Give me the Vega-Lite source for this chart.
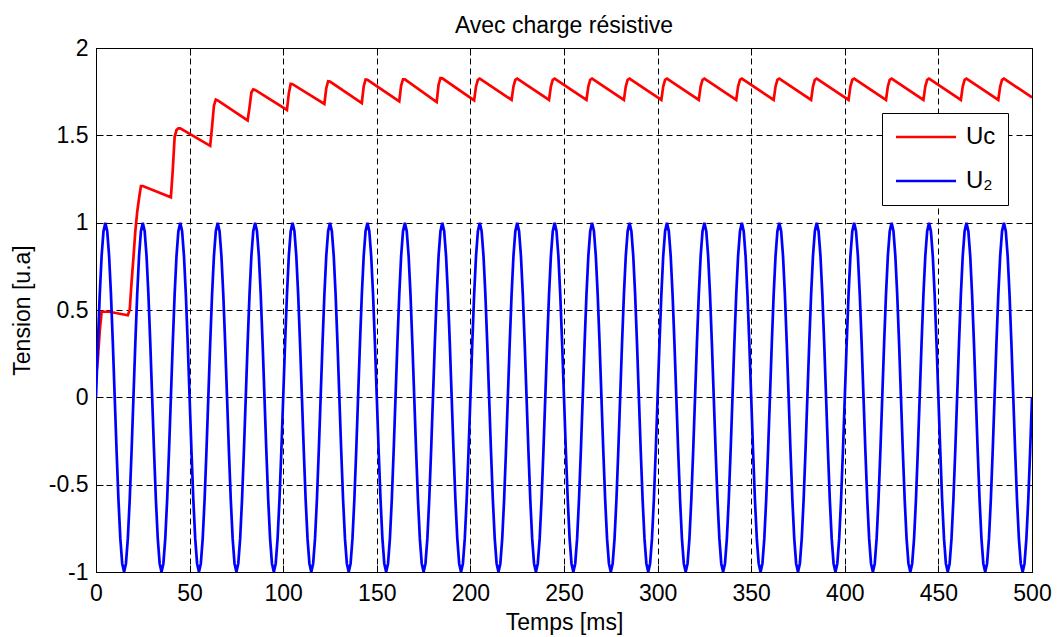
{
"$schema": "https://vega.github.io/schema/vega-lite/v6.json",
"width": 936,
"height": 524,
"autosize": "none",
"padding": {"left": 96, "top": 48, "right": 30, "bottom": 65},
"background": "white",
"title": {"text": "Avec charge résistive", "fontSize": 23, "font": "Liberation Sans", "fontWeight": "normal", "color": "black", "offset": -1},
"config": {
  "view": {"stroke": "black", "strokeWidth": 1},
  "font": "Liberation Sans",
  "axis": {"labelFont": "Liberation Sans", "titleFont": "Liberation Sans", "labelFontSize": 23, "titleFontSize": 23, "titleFontWeight": "normal", "labelColor": "black", "titleColor": "black", "domainColor": "black", "tickColor": "black", "grid": true, "gridColor": "black", "gridDash": [6, 4], "gridOpacity": 1, "gridWidth": 1, "tickSize": -7, "labelFlush": false}
},
"resolve": {"axis": {"x": "independent", "y": "independent"}},
"datasets": {
"u2": [
{"t":0,"v":0},{"t":1,"v":0.309},{"t":2,"v":0.588},{"t":3,"v":0.809},{"t":4,"v":0.951},{"t":5,"v":1},{"t":6,"v":0.951},{"t":7,"v":0.809},{"t":8,"v":0.588},{"t":9,"v":0.309},{"t":10,"v":0},{"t":11,"v":-0.309},{"t":12,"v":-0.588},{"t":13,"v":-0.809},{"t":14,"v":-0.951},{"t":15,"v":-1},{"t":16,"v":-0.951},{"t":17,"v":-0.809},{"t":18,"v":-0.588},{"t":19,"v":-0.309},
{"t":20,"v":0},{"t":21,"v":0.309},{"t":22,"v":0.588},{"t":23,"v":0.809},{"t":24,"v":0.951},{"t":25,"v":1},{"t":26,"v":0.951},{"t":27,"v":0.809},{"t":28,"v":0.588},{"t":29,"v":0.309},{"t":30,"v":0},{"t":31,"v":-0.309},{"t":32,"v":-0.588},{"t":33,"v":-0.809},{"t":34,"v":-0.951},{"t":35,"v":-1},{"t":36,"v":-0.951},{"t":37,"v":-0.809},{"t":38,"v":-0.588},{"t":39,"v":-0.309},
{"t":40,"v":0},{"t":41,"v":0.309},{"t":42,"v":0.588},{"t":43,"v":0.809},{"t":44,"v":0.951},{"t":45,"v":1},{"t":46,"v":0.951},{"t":47,"v":0.809},{"t":48,"v":0.588},{"t":49,"v":0.309},{"t":50,"v":0},{"t":51,"v":-0.309},{"t":52,"v":-0.588},{"t":53,"v":-0.809},{"t":54,"v":-0.951},{"t":55,"v":-1},{"t":56,"v":-0.951},{"t":57,"v":-0.809},{"t":58,"v":-0.588},{"t":59,"v":-0.309},
{"t":60,"v":0},{"t":61,"v":0.309},{"t":62,"v":0.588},{"t":63,"v":0.809},{"t":64,"v":0.951},{"t":65,"v":1},{"t":66,"v":0.951},{"t":67,"v":0.809},{"t":68,"v":0.588},{"t":69,"v":0.309},{"t":70,"v":0},{"t":71,"v":-0.309},{"t":72,"v":-0.588},{"t":73,"v":-0.809},{"t":74,"v":-0.951},{"t":75,"v":-1},{"t":76,"v":-0.951},{"t":77,"v":-0.809},{"t":78,"v":-0.588},{"t":79,"v":-0.309},
{"t":80,"v":0},{"t":81,"v":0.309},{"t":82,"v":0.588},{"t":83,"v":0.809},{"t":84,"v":0.951},{"t":85,"v":1},{"t":86,"v":0.951},{"t":87,"v":0.809},{"t":88,"v":0.588},{"t":89,"v":0.309},{"t":90,"v":0},{"t":91,"v":-0.309},{"t":92,"v":-0.588},{"t":93,"v":-0.809},{"t":94,"v":-0.951},{"t":95,"v":-1},{"t":96,"v":-0.951},{"t":97,"v":-0.809},{"t":98,"v":-0.588},{"t":99,"v":-0.309},
{"t":100,"v":0},{"t":101,"v":0.309},{"t":102,"v":0.588},{"t":103,"v":0.809},{"t":104,"v":0.951},{"t":105,"v":1},{"t":106,"v":0.951},{"t":107,"v":0.809},{"t":108,"v":0.588},{"t":109,"v":0.309},{"t":110,"v":0},{"t":111,"v":-0.309},{"t":112,"v":-0.588},{"t":113,"v":-0.809},{"t":114,"v":-0.951},{"t":115,"v":-1},{"t":116,"v":-0.951},{"t":117,"v":-0.809},{"t":118,"v":-0.588},{"t":119,"v":-0.309},
{"t":120,"v":0},{"t":121,"v":0.309},{"t":122,"v":0.588},{"t":123,"v":0.809},{"t":124,"v":0.951},{"t":125,"v":1},{"t":126,"v":0.951},{"t":127,"v":0.809},{"t":128,"v":0.588},{"t":129,"v":0.309},{"t":130,"v":0},{"t":131,"v":-0.309},{"t":132,"v":-0.588},{"t":133,"v":-0.809},{"t":134,"v":-0.951},{"t":135,"v":-1},{"t":136,"v":-0.951},{"t":137,"v":-0.809},{"t":138,"v":-0.588},{"t":139,"v":-0.309},
{"t":140,"v":0},{"t":141,"v":0.309},{"t":142,"v":0.588},{"t":143,"v":0.809},{"t":144,"v":0.951},{"t":145,"v":1},{"t":146,"v":0.951},{"t":147,"v":0.809},{"t":148,"v":0.588},{"t":149,"v":0.309},{"t":150,"v":0},{"t":151,"v":-0.309},{"t":152,"v":-0.588},{"t":153,"v":-0.809},{"t":154,"v":-0.951},{"t":155,"v":-1},{"t":156,"v":-0.951},{"t":157,"v":-0.809},{"t":158,"v":-0.588},{"t":159,"v":-0.309},
{"t":160,"v":0},{"t":161,"v":0.309},{"t":162,"v":0.588},{"t":163,"v":0.809},{"t":164,"v":0.951},{"t":165,"v":1},{"t":166,"v":0.951},{"t":167,"v":0.809},{"t":168,"v":0.588},{"t":169,"v":0.309},{"t":170,"v":0},{"t":171,"v":-0.309},{"t":172,"v":-0.588},{"t":173,"v":-0.809},{"t":174,"v":-0.951},{"t":175,"v":-1},{"t":176,"v":-0.951},{"t":177,"v":-0.809},{"t":178,"v":-0.588},{"t":179,"v":-0.309},
{"t":180,"v":0},{"t":181,"v":0.309},{"t":182,"v":0.588},{"t":183,"v":0.809},{"t":184,"v":0.951},{"t":185,"v":1},{"t":186,"v":0.951},{"t":187,"v":0.809},{"t":188,"v":0.588},{"t":189,"v":0.309},{"t":190,"v":0},{"t":191,"v":-0.309},{"t":192,"v":-0.588},{"t":193,"v":-0.809},{"t":194,"v":-0.951},{"t":195,"v":-1},{"t":196,"v":-0.951},{"t":197,"v":-0.809},{"t":198,"v":-0.588},{"t":199,"v":-0.309},
{"t":200,"v":0},{"t":201,"v":0.309},{"t":202,"v":0.588},{"t":203,"v":0.809},{"t":204,"v":0.951},{"t":205,"v":1},{"t":206,"v":0.951},{"t":207,"v":0.809},{"t":208,"v":0.588},{"t":209,"v":0.309},{"t":210,"v":0},{"t":211,"v":-0.309},{"t":212,"v":-0.588},{"t":213,"v":-0.809},{"t":214,"v":-0.951},{"t":215,"v":-1},{"t":216,"v":-0.951},{"t":217,"v":-0.809},{"t":218,"v":-0.588},{"t":219,"v":-0.309},
{"t":220,"v":0},{"t":221,"v":0.309},{"t":222,"v":0.588},{"t":223,"v":0.809},{"t":224,"v":0.951},{"t":225,"v":1},{"t":226,"v":0.951},{"t":227,"v":0.809},{"t":228,"v":0.588},{"t":229,"v":0.309},{"t":230,"v":0},{"t":231,"v":-0.309},{"t":232,"v":-0.588},{"t":233,"v":-0.809},{"t":234,"v":-0.951},{"t":235,"v":-1},{"t":236,"v":-0.951},{"t":237,"v":-0.809},{"t":238,"v":-0.588},{"t":239,"v":-0.309},
{"t":240,"v":0},{"t":241,"v":0.309},{"t":242,"v":0.588},{"t":243,"v":0.809},{"t":244,"v":0.951},{"t":245,"v":1},{"t":246,"v":0.951},{"t":247,"v":0.809},{"t":248,"v":0.588},{"t":249,"v":0.309},{"t":250,"v":0},{"t":251,"v":-0.309},{"t":252,"v":-0.588},{"t":253,"v":-0.809},{"t":254,"v":-0.951},{"t":255,"v":-1},{"t":256,"v":-0.951},{"t":257,"v":-0.809},{"t":258,"v":-0.588},{"t":259,"v":-0.309},
{"t":260,"v":0},{"t":261,"v":0.309},{"t":262,"v":0.588},{"t":263,"v":0.809},{"t":264,"v":0.951},{"t":265,"v":1},{"t":266,"v":0.951},{"t":267,"v":0.809},{"t":268,"v":0.588},{"t":269,"v":0.309},{"t":270,"v":0},{"t":271,"v":-0.309},{"t":272,"v":-0.588},{"t":273,"v":-0.809},{"t":274,"v":-0.951},{"t":275,"v":-1},{"t":276,"v":-0.951},{"t":277,"v":-0.809},{"t":278,"v":-0.588},{"t":279,"v":-0.309},
{"t":280,"v":0},{"t":281,"v":0.309},{"t":282,"v":0.588},{"t":283,"v":0.809},{"t":284,"v":0.951},{"t":285,"v":1},{"t":286,"v":0.951},{"t":287,"v":0.809},{"t":288,"v":0.588},{"t":289,"v":0.309},{"t":290,"v":0},{"t":291,"v":-0.309},{"t":292,"v":-0.588},{"t":293,"v":-0.809},{"t":294,"v":-0.951},{"t":295,"v":-1},{"t":296,"v":-0.951},{"t":297,"v":-0.809},{"t":298,"v":-0.588},{"t":299,"v":-0.309},
{"t":300,"v":0},{"t":301,"v":0.309},{"t":302,"v":0.588},{"t":303,"v":0.809},{"t":304,"v":0.951},{"t":305,"v":1},{"t":306,"v":0.951},{"t":307,"v":0.809},{"t":308,"v":0.588},{"t":309,"v":0.309},{"t":310,"v":0},{"t":311,"v":-0.309},{"t":312,"v":-0.588},{"t":313,"v":-0.809},{"t":314,"v":-0.951},{"t":315,"v":-1},{"t":316,"v":-0.951},{"t":317,"v":-0.809},{"t":318,"v":-0.588},{"t":319,"v":-0.309},
{"t":320,"v":0},{"t":321,"v":0.309},{"t":322,"v":0.588},{"t":323,"v":0.809},{"t":324,"v":0.951},{"t":325,"v":1},{"t":326,"v":0.951},{"t":327,"v":0.809},{"t":328,"v":0.588},{"t":329,"v":0.309},{"t":330,"v":0},{"t":331,"v":-0.309},{"t":332,"v":-0.588},{"t":333,"v":-0.809},{"t":334,"v":-0.951},{"t":335,"v":-1},{"t":336,"v":-0.951},{"t":337,"v":-0.809},{"t":338,"v":-0.588},{"t":339,"v":-0.309},
{"t":340,"v":0},{"t":341,"v":0.309},{"t":342,"v":0.588},{"t":343,"v":0.809},{"t":344,"v":0.951},{"t":345,"v":1},{"t":346,"v":0.951},{"t":347,"v":0.809},{"t":348,"v":0.588},{"t":349,"v":0.309},{"t":350,"v":0},{"t":351,"v":-0.309},{"t":352,"v":-0.588},{"t":353,"v":-0.809},{"t":354,"v":-0.951},{"t":355,"v":-1},{"t":356,"v":-0.951},{"t":357,"v":-0.809},{"t":358,"v":-0.588},{"t":359,"v":-0.309},
{"t":360,"v":0},{"t":361,"v":0.309},{"t":362,"v":0.588},{"t":363,"v":0.809},{"t":364,"v":0.951},{"t":365,"v":1},{"t":366,"v":0.951},{"t":367,"v":0.809},{"t":368,"v":0.588},{"t":369,"v":0.309},{"t":370,"v":0},{"t":371,"v":-0.309},{"t":372,"v":-0.588},{"t":373,"v":-0.809},{"t":374,"v":-0.951},{"t":375,"v":-1},{"t":376,"v":-0.951},{"t":377,"v":-0.809},{"t":378,"v":-0.588},{"t":379,"v":-0.309},
{"t":380,"v":0},{"t":381,"v":0.309},{"t":382,"v":0.588},{"t":383,"v":0.809},{"t":384,"v":0.951},{"t":385,"v":1},{"t":386,"v":0.951},{"t":387,"v":0.809},{"t":388,"v":0.588},{"t":389,"v":0.309},{"t":390,"v":0},{"t":391,"v":-0.309},{"t":392,"v":-0.588},{"t":393,"v":-0.809},{"t":394,"v":-0.951},{"t":395,"v":-1},{"t":396,"v":-0.951},{"t":397,"v":-0.809},{"t":398,"v":-0.588},{"t":399,"v":-0.309},
{"t":400,"v":0},{"t":401,"v":0.309},{"t":402,"v":0.588},{"t":403,"v":0.809},{"t":404,"v":0.951},{"t":405,"v":1},{"t":406,"v":0.951},{"t":407,"v":0.809},{"t":408,"v":0.588},{"t":409,"v":0.309},{"t":410,"v":0},{"t":411,"v":-0.309},{"t":412,"v":-0.588},{"t":413,"v":-0.809},{"t":414,"v":-0.951},{"t":415,"v":-1},{"t":416,"v":-0.951},{"t":417,"v":-0.809},{"t":418,"v":-0.588},{"t":419,"v":-0.309},
{"t":420,"v":0},{"t":421,"v":0.309},{"t":422,"v":0.588},{"t":423,"v":0.809},{"t":424,"v":0.951},{"t":425,"v":1},{"t":426,"v":0.951},{"t":427,"v":0.809},{"t":428,"v":0.588},{"t":429,"v":0.309},{"t":430,"v":0},{"t":431,"v":-0.309},{"t":432,"v":-0.588},{"t":433,"v":-0.809},{"t":434,"v":-0.951},{"t":435,"v":-1},{"t":436,"v":-0.951},{"t":437,"v":-0.809},{"t":438,"v":-0.588},{"t":439,"v":-0.309},
{"t":440,"v":0},{"t":441,"v":0.309},{"t":442,"v":0.588},{"t":443,"v":0.809},{"t":444,"v":0.951},{"t":445,"v":1},{"t":446,"v":0.951},{"t":447,"v":0.809},{"t":448,"v":0.588},{"t":449,"v":0.309},{"t":450,"v":0},{"t":451,"v":-0.309},{"t":452,"v":-0.588},{"t":453,"v":-0.809},{"t":454,"v":-0.951},{"t":455,"v":-1},{"t":456,"v":-0.951},{"t":457,"v":-0.809},{"t":458,"v":-0.588},{"t":459,"v":-0.309},
{"t":460,"v":0},{"t":461,"v":0.309},{"t":462,"v":0.588},{"t":463,"v":0.809},{"t":464,"v":0.951},{"t":465,"v":1},{"t":466,"v":0.951},{"t":467,"v":0.809},{"t":468,"v":0.588},{"t":469,"v":0.309},{"t":470,"v":0},{"t":471,"v":-0.309},{"t":472,"v":-0.588},{"t":473,"v":-0.809},{"t":474,"v":-0.951},{"t":475,"v":-1},{"t":476,"v":-0.951},{"t":477,"v":-0.809},{"t":478,"v":-0.588},{"t":479,"v":-0.309},
{"t":480,"v":0},{"t":481,"v":0.309},{"t":482,"v":0.588},{"t":483,"v":0.809},{"t":484,"v":0.951},{"t":485,"v":1},{"t":486,"v":0.951},{"t":487,"v":0.809},{"t":488,"v":0.588},{"t":489,"v":0.309},{"t":490,"v":0},{"t":491,"v":-0.309},{"t":492,"v":-0.588},{"t":493,"v":-0.809},{"t":494,"v":-0.951},{"t":495,"v":-1},{"t":496,"v":-0.951},{"t":497,"v":-0.809},{"t":498,"v":-0.588},{"t":499,"v":-0.309},
{"t":500,"v":0}
],
"uc": [
{"t":0,"v":0.12},{"t":1,"v":0.22},{"t":2,"v":0.38},{"t":3,"v":0.49},{"t":7,"v":0.49},{"t":17,"v":0.47},{"t":18,"v":0.5},{"t":19,"v":0.66},{"t":20,"v":0.8},{"t":21,"v":0.95},{"t":22,"v":1.06},{"t":23,"v":1.14},{"t":24,"v":1.21},{"t":25,"v":1.21},
{"t":40,"v":1.145},{"t":41,"v":1.3},{"t":42,"v":1.49},{"t":43,"v":1.53},{"t":44,"v":1.54},{"t":45,"v":1.54},
{"t":61,"v":1.44},{"t":62,"v":1.55},{"t":63,"v":1.67},{"t":64,"v":1.705},{"t":65,"v":1.7},
{"t":81,"v":1.585},{"t":82,"v":1.66},{"t":83,"v":1.745},{"t":84,"v":1.763},{"t":85,"v":1.76},
{"t":102,"v":1.645},{"t":103,"v":1.74},{"t":104,"v":1.795},{"t":105,"v":1.793},
{"t":122,"v":1.68},{"t":123,"v":1.77},{"t":124,"v":1.81},{"t":125,"v":1.808},
{"t":142,"v":1.685},{"t":143,"v":1.78},{"t":144,"v":1.82},{"t":145,"v":1.818},
{"t":162,"v":1.695},{"t":163,"v":1.785},{"t":164,"v":1.82},{"t":165,"v":1.82},
{"t":182,"v":1.69},{"t":183,"v":1.79},{"t":184,"v":1.828},{"t":185,"v":1.826},
{"t":202,"v":1.7},{"t":203,"v":1.78},{"t":204,"v":1.818},{"t":205,"v":1.825},
{"t":222,"v":1.703},{"t":223,"v":1.78},{"t":224,"v":1.818},{"t":225,"v":1.825},
{"t":242,"v":1.703},{"t":243,"v":1.78},{"t":244,"v":1.818},{"t":245,"v":1.825},
{"t":262,"v":1.703},{"t":263,"v":1.78},{"t":264,"v":1.818},{"t":265,"v":1.825},
{"t":282,"v":1.703},{"t":283,"v":1.78},{"t":284,"v":1.818},{"t":285,"v":1.825},
{"t":302,"v":1.703},{"t":303,"v":1.78},{"t":304,"v":1.818},{"t":305,"v":1.825},
{"t":322,"v":1.703},{"t":323,"v":1.78},{"t":324,"v":1.818},{"t":325,"v":1.825},
{"t":342,"v":1.703},{"t":343,"v":1.78},{"t":344,"v":1.818},{"t":345,"v":1.825},
{"t":362,"v":1.703},{"t":363,"v":1.78},{"t":364,"v":1.818},{"t":365,"v":1.825},
{"t":382,"v":1.703},{"t":383,"v":1.78},{"t":384,"v":1.818},{"t":385,"v":1.825},
{"t":402,"v":1.703},{"t":403,"v":1.78},{"t":404,"v":1.818},{"t":405,"v":1.825},
{"t":422,"v":1.703},{"t":423,"v":1.78},{"t":424,"v":1.818},{"t":425,"v":1.825},
{"t":442,"v":1.703},{"t":443,"v":1.78},{"t":444,"v":1.818},{"t":445,"v":1.825},
{"t":462,"v":1.703},{"t":463,"v":1.78},{"t":464,"v":1.818},{"t":465,"v":1.825},
{"t":482,"v":1.703},{"t":483,"v":1.78},{"t":484,"v":1.818},{"t":485,"v":1.825},
{"t":500,"v":1.717}
]
},
"encoding": {
  "x": {"field": "t", "type": "quantitative", "scale": {"domain": [0, 500], "nice": false, "zero": false},
        "axis": {"title": "Temps [ms]", "values": [0,50,100,150,200,250,300,350,400,450,500], "labelPadding": 17, "titlePadding": 6}},
  "y": {"field": "v", "type": "quantitative", "scale": {"domain": [-1, 2], "nice": false, "zero": false},
        "axis": {"title": "Tension [u.a]", "values": [-1,-0.5,0,0.5,1,1.5,2], "labelExpr": "toString(datum.value)", "labelPadding": 15, "titlePadding": 14}}
},
"layer": [
  {
    "data": {"name": "uc"},
    "mark": {"type": "line", "strokeWidth": 2.7, "interpolate": "linear", "clip": true},
    "encoding": {
      "color": {"datum": "Uc", "type": "nominal",
        "scale": {"domain": ["Uc", "U₂"], "range": ["#ff0000", "#0000ff"]},
        "legend": {"title": null, "orient": "none", "legendX": 786, "legendY": 65, "strokeColor": "black", "fillColor": "white", "padding": 12, "symbolType": "M-1,0H5", "symbolSize": 400, "symbolStrokeWidth": 2.5, "labelFontSize": 24, "labelFont": "Liberation Sans", "labelColor": "black", "labelOffset": 48, "rowPadding": 20, "cornerRadius": 0}}
    }
  },
  {
    "data": {"name": "u2"},
    "mark": {"type": "line", "strokeWidth": 2.7, "interpolate": "linear", "clip": true},
    "encoding": {
      "x": {"field": "t", "type": "quantitative", "axis": {"orient": "top", "labels": false, "title": null, "grid": false, "domain": false, "ticks": true, "values": [0,50,100,150,200,250,300,350,400,450,500]}},
      "y": {"field": "v", "type": "quantitative", "axis": {"orient": "right", "labels": false, "title": null, "grid": false, "domain": false, "ticks": true, "values": [-1,-0.5,0,0.5,1,1.5,2]}},
      "color": {"datum": "U₂", "type": "nominal"}
    }
  }
]
}
